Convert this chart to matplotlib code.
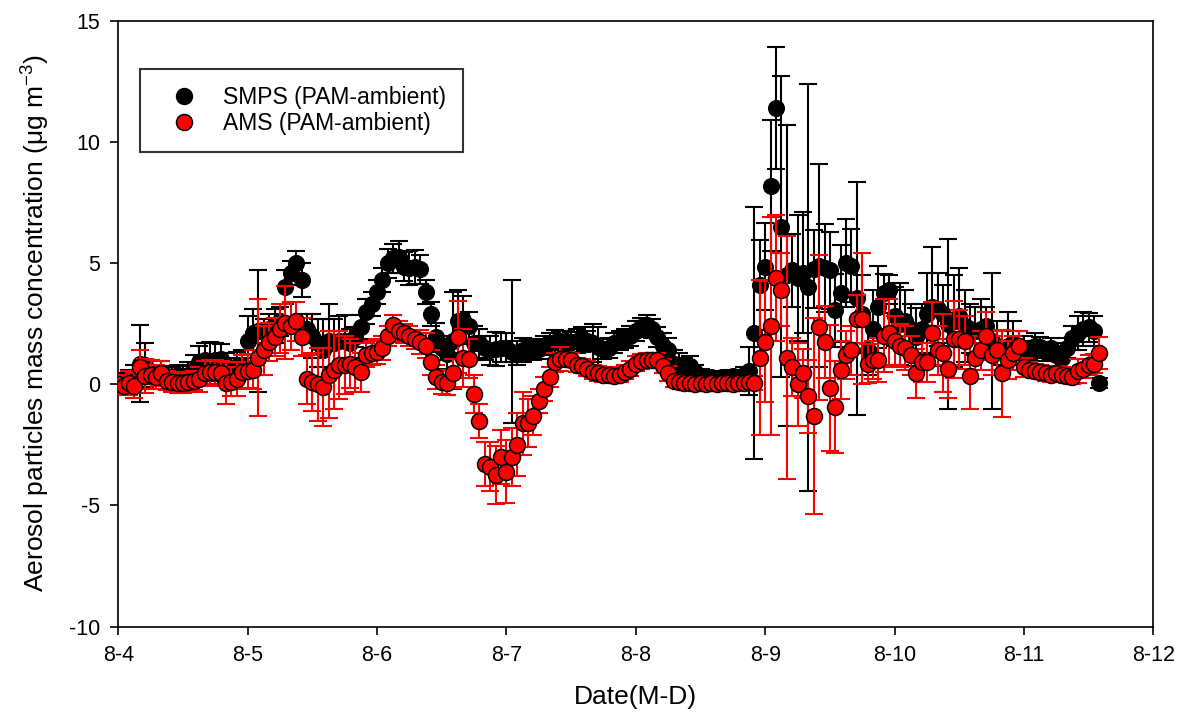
import numpy as np
import matplotlib
matplotlib.use("Agg")
import matplotlib.pyplot as plt
from matplotlib.lines import Line2D

plt.rcParams['font.family'] = ['Liberation Sans', 'DejaVu Sans']
plt.rcParams['mathtext.fontset'] = 'custom'
plt.rcParams['mathtext.rm'] = 'Liberation Sans'
plt.rcParams['mathtext.default'] = 'regular'
plt.rcParams['axes.unicode_minus'] = False

# ---- data (hourly values from 8-4 00:00) ----
smps = [
    0.15, 0.1, 0.1, 0.3, 0.85, 0.8, 0.5, 0.4, 0.45, 0.35, 0.3, 0.4, 0.35, 0.4, 0.6, 0.9, 1.0, 0.95, 1.0, 1.05, 0.7, 0.6, 0.75, 0.8,
    1.8, 2.1, 2.2, 2.2, 2.3, 2.4, 2.6, 4.0, 4.6, 5.0, 4.3, 2.3, 2.0, 1.7, 1.4, 1.8, 1.7, 1.8, 1.8, 1.7, 1.95, 2.35, 3.0, 3.3,
    3.8, 4.3, 5.0, 5.2, 5.25, 4.85, 4.8, 4.85, 4.75, 3.8, 2.9, 1.95, 1.5, 1.25, 1.8, 2.6, 2.65, 2.4, 1.7, 1.7, 1.5, 1.4, 1.45, 1.5,
    1.5, 1.35, 1.3, 1.4, 1.45, 1.4, 1.45, 1.6, 1.7, 1.75, 1.8, 1.8, 1.75, 1.8, 1.85, 1.8, 1.7, 1.55, 1.45, 1.5, 1.7, 1.8, 1.9, 2.0,
    2.2, 2.35, 2.45, 2.3, 1.95, 1.6, 1.4, 0.85, 0.8, 0.7, 0.75, 0.5, 0.35, 0.3, 0.3, 0.25, 0.3, 0.3, 0.35, 0.3, 0.4, 0.55, 2.1, 4.1,
    4.85, 8.2, 11.4, 6.5, 4.5, 4.7, 4.4, 4.6, 4.0, 4.75, 4.9, 4.8, 4.7, 3.05, 3.75, 5.0, 4.9, 3.55, 2.9, 1.4, 2.3, 3.2, 3.75, 3.9,
    2.8, 2.5, 2.6, 2.3, 1.95, 2.3, 2.9, 3.2, 3.1, 2.9, 2.5, 2.6, 2.8, 2.4, 2.3, 2.2, 2.3, 2.4, 1.8, 1.6, 1.5, 1.6, 1.7, 1.6,
    1.5, 1.4, 1.6, 1.55, 1.35, 1.5, 1.2, 1.1, 1.5, 1.9, 2.1, 2.3, 2.35, 2.2, 0.05,
]
smps_err = [
    0.3, 0.3, 0.5, 0.5, 1.6, 0.9, 0.5, 0.4, 0.5, 0.4, 0.4, 0.4, 0.4, 0.5, 0.6, 0.7, 0.7, 0.8, 0.7, 0.6, 0.6, 0.5, 0.6, 0.6,
    1.0, 1.0, 2.5, 0.5, 0.6, 0.7, 0.6, 0.7, 0.5, 0.5, 0.7, 0.6, 0.9, 1.0, 1.3, 1.5, 1.0, 1.0, 1.05, 0.6, 0.4, 0.5, 0.5, 0.5,
    0.5, 0.5, 0.6, 0.6, 0.65, 0.6, 0.7, 0.7, 0.6, 0.5, 0.5, 0.6, 0.5, 0.6, 2.0, 1.3, 1.0, 0.6, 0.7, 0.6, 0.5, 0.6, 0.7, 0.6,
    0.6, 2.95, 0.5, 0.5, 0.4, 0.4, 0.4, 0.4, 0.4, 0.5, 0.4, 0.4, 0.4, 0.5, 0.5, 0.4, 0.8, 0.8, 0.4, 0.4, 0.4, 0.4, 0.4, 0.4,
    0.4, 0.4, 0.4, 0.4, 0.4, 0.5, 0.5, 0.55, 0.5, 0.4, 0.4, 0.3, 0.3, 0.25, 0.25, 0.2, 0.2, 0.25, 0.25, 0.2, 0.3, 1.0, 5.2, 1.85,
    1.8, 2.7, 2.5, 6.2, 6.2, 1.5, 2.6, 2.5, 8.4, 1.6, 4.2, 1.8, 1.6, 1.5, 2.0, 1.8, 1.5, 4.8, 1.6, 1.0, 1.6, 1.7, 0.8, 0.6,
    1.2, 1.7, 1.3, 1.0, 1.2, 1.0, 1.7, 2.45, 1.5, 1.2, 3.5, 1.9, 2.0, 1.5, 1.0, 1.0, 1.2, 0.8, 2.8, 1.0, 0.7, 1.4, 0.9, 0.6,
    0.5, 0.4, 0.5, 0.4, 0.4, 0.4, 0.5, 0.5, 0.4, 0.5, 0.7, 0.7, 0.6, 0.6, 0.2,
]
ams = [
    0.0, -0.05, 0.05, -0.05, 0.7, 0.35, 0.4, 0.3, 0.45, 0.15, 0.1, 0.05, 0.05, 0.1, 0.15, 0.2, 0.45, 0.5, 0.5, 0.45, 0.05, 0.1, 0.2, 0.5,
    0.55, 0.6, 1.1, 1.4, 1.75, 1.95, 2.3, 2.55, 2.4, 2.6, 1.95, 0.2, 0.1, 0.0, -0.1, 0.4, 0.6, 0.8, 0.8, 0.85, 0.7, 0.5, 1.2, 1.3,
    1.35, 1.5, 2.0, 2.45, 2.2, 2.1, 2.0, 1.85, 1.75, 1.6, 0.9, 0.3, 0.1, 0.05, 0.45, 1.95, 1.1, 1.05, -0.4, -1.5, -3.3, -3.4, -3.75, -3.0,
    -3.6, -3.0, -2.5, -1.6, -1.6, -1.3, -0.7, -0.2, 0.3, 0.9, 1.05, 1.05, 1.0, 0.8, 0.75, 0.65, 0.5, 0.45, 0.4, 0.4, 0.35, 0.4, 0.5, 0.65,
    0.85, 0.95, 1.0, 1.0, 1.0, 0.75, 0.45, 0.15, 0.1, 0.05, 0.05, 0.0, 0.05, 0.0, 0.05, 0.0, 0.05, 0.05, 0.0, 0.05, 0.05, 0.1, 0.05, 1.1,
    1.75, 2.4, 4.4, 3.9, 1.1, 0.7, 0.0, 0.45, -0.5, -1.3, 2.35, 1.75, -0.15, -0.95, 0.6, 1.2, 1.4, 2.7, 2.7, 0.85, 1.0, 1.0, 2.0, 2.1,
    1.8, 1.6, 1.5, 1.2, 0.45, 0.9, 0.9, 2.1, 1.4, 1.3, 0.65, 1.85, 1.85, 1.8, 0.35, 1.1, 1.4, 2.0, 1.2, 1.4, 0.45, 1.0, 1.3, 1.6,
    0.7, 0.6, 0.55, 0.5, 0.45, 0.4, 0.45, 0.4, 0.35, 0.3, 0.55, 0.65, 0.8, 0.85, 1.3,
]
ams_err = [
    0.4, 0.4, 0.5, 0.5, 0.7, 0.7, 0.6, 0.5, 0.5, 0.4, 0.4, 0.4, 0.4, 0.4, 0.4, 0.5, 0.5, 0.5, 0.5, 0.5, 0.85, 0.6, 0.7, 0.7,
    0.7, 0.8, 2.4, 1.0, 0.8, 0.8, 1.0, 1.5, 1.0, 0.8, 0.8, 1.0, 1.2, 1.5, 1.6, 1.8, 1.6, 1.4, 1.2, 1.0, 1.0, 0.8, 0.5, 0.5,
    0.5, 0.5, 0.4, 0.4, 0.4, 0.4, 0.4, 0.4, 0.5, 0.5, 0.5, 0.5, 0.5, 0.5, 0.6, 1.5, 1.2, 0.8, 0.8, 0.7, 0.9, 1.0, 1.2, 1.1,
    1.3, 1.2, 1.3, 1.3, 1.0, 0.8, 0.5, 0.5, 0.4, 0.4, 0.5, 0.3, 0.3, 0.3, 0.3, 0.3, 0.3, 0.3, 0.3, 0.3, 0.3, 0.3, 0.3, 0.3,
    0.3, 0.3, 0.3, 0.3, 0.3, 0.3, 0.3, 0.25, 0.2, 0.2, 0.2, 0.2, 0.2, 0.2, 0.2, 0.2, 0.2, 0.2, 0.2, 0.2, 0.2, 0.2, 0.3, 3.2,
    2.5, 4.5, 2.6, 1.5, 5.0, 1.2, 1.7, 1.0, 1.5, 4.05, 3.0, 1.5, 2.6, 1.9, 1.2, 1.0, 1.0, 1.0, 2.7, 0.8, 0.8, 0.9, 1.5, 1.4,
    1.0, 0.9, 0.9, 0.8, 1.0, 0.8, 0.8, 1.3, 1.0, 1.6, 1.2, 1.6, 1.2, 1.0, 1.35, 0.9, 0.8, 1.0, 0.8, 0.8, 1.8, 0.8, 0.7, 0.6,
    0.4, 0.3, 0.3, 0.3, 0.3, 0.3, 0.3, 0.3, 0.3, 0.3, 0.5, 0.4, 0.4, 0.4, 0.65,
]
hours = np.arange(len(smps))          # hourly samples
days = hours / 24.0                   # days since 8-4
xtick_labels = ['8-4', '8-5', '8-6', '8-7', '8-8', '8-9', '8-10', '8-11', '8-12']
yticks = [-10, -5, 0, 5, 10, 15]
labels = ['SMPS (PAM-ambient)', 'AMS (PAM-ambient)']

fig = plt.figure(figsize=(11.85, 7.25), dpi=100)
ax = fig.add_axes([0.0998, 0.1356, 0.8735, 0.8358])

MS = 11.5
eb_kw = dict(fmt='none', elinewidth=1.5, capsize=6.5, capthick=1.5)
ax.errorbar(days, smps, yerr=smps_err, ecolor='black', zorder=2, **eb_kw)
ax.plot(days, smps, linestyle='none', marker='o', ms=MS, mfc='black', mec='black', mew=0.8, zorder=3)
ax.errorbar(days, ams, yerr=ams_err, ecolor='#ff0000', zorder=4, **eb_kw)
ax.plot(days, ams, linestyle='none', marker='o', ms=MS, mfc='#ff0000', mec='black', mew=1.1, zorder=5)

ax.set_xlim(0, 8)
ax.set_ylim(-10, 15)
ax.set_xticks(range(len(xtick_labels)))
ax.set_xticklabels(xtick_labels)
ax.set_yticks(yticks)
ax.tick_params(direction='out', length=6, width=1.2, top=False, right=False,
               labelsize=15.5, pad=7)
for s in ax.spines.values():
    s.set_linewidth(1.2)

ax.set_xlabel('Date(M-D)', fontsize=19, labelpad=14)
ax.set_ylabel('Aerosol particles mass concentration (\u03bcg m$^{-3}$)', fontsize=19, labelpad=12)

handles = [
    Line2D([], [], linestyle='none', marker='o', ms=MS, mfc='black', mec='black'),
    Line2D([], [], linestyle='none', marker='o', ms=MS, mfc='#ff0000', mec='black', mew=1.1),
]
leg = ax.legend(handles, labels, loc='upper left', bbox_to_anchor=(0.021, 0.920),
                borderaxespad=0, fontsize=16.5, frameon=True, fancybox=False,
                borderpad=0.75, handlelength=2.3, handletextpad=0.55, labelspacing=0.1)
leg.get_frame().set_edgecolor('black')
leg.get_frame().set_linewidth(1.5)

fig.savefig('out.png', dpi=100)
